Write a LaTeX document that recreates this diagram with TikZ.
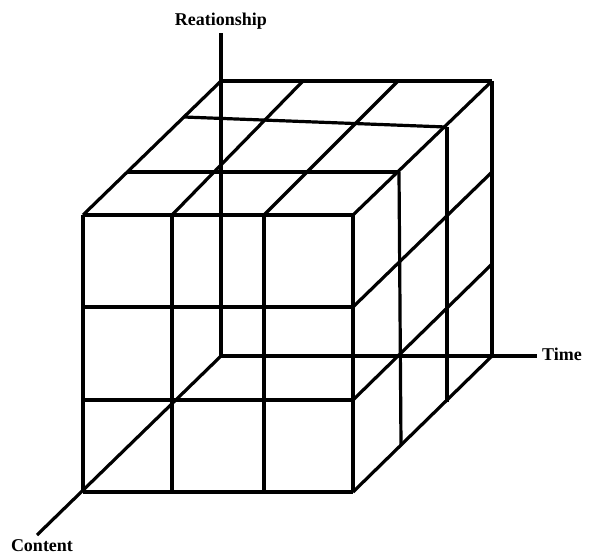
\documentclass[tikz,border=0pt]{standalone}
\usepackage{fontspec}
\setmainfont{Liberation Serif}
\begin{document}
\begin{tikzpicture}[x=1pt,y=-1pt,
  edge/.style={line width=3.2pt,line join=round},
  lbl/.style={font=\bfseries\fontsize{18}{21}\selectfont,inner sep=0pt}]
\useasboundingbox (0,0) rectangle (589,555);
% front face grid
\foreach \x in {83,172,264,353} \draw[edge] (\x,215) -- (\x,492);
\foreach \y in {215,307,400,492} \draw[edge] (83,\y) -- (353,\y);
% top face
\draw[edge] (83,215) -- (221,81);
\draw[edge] (172,215) -- (303,81);
\draw[edge] (264,215) -- (398,81);
\draw[edge] (353,215) -- (492,81);
\draw[edge] (221,81) -- (492,81);
\draw[edge] (127,172) -- (399,172);
\draw[edge] (184,117) -- (446,127);
% right face
\draw[edge] (399,172) -- (401,445);
\draw[edge] (447,127) -- (447,402);
\draw[edge] (492,81) -- (492,356);
\draw[edge] (353,307) -- (492,172);
\draw[edge] (353,400) -- (492,264);
\draw[edge] (353,492) -- (492,356);
% axes
\coordinate (O) at (221,356);
\coordinate (R) at (221,33);
\coordinate (T) at (537,356);
\coordinate (C) at (37,535);
\draw[edge] (O) -- (R);
\draw[edge] (O) -- (T);
\draw[edge] (O) -- (C);
\node[lbl] (rel) at (221,21) {Reationship};
\node[lbl,anchor=west] (time) at (542,354) {Time};
\node[lbl] (con) at (42,546) {Content};
\end{tikzpicture}
\end{document}
